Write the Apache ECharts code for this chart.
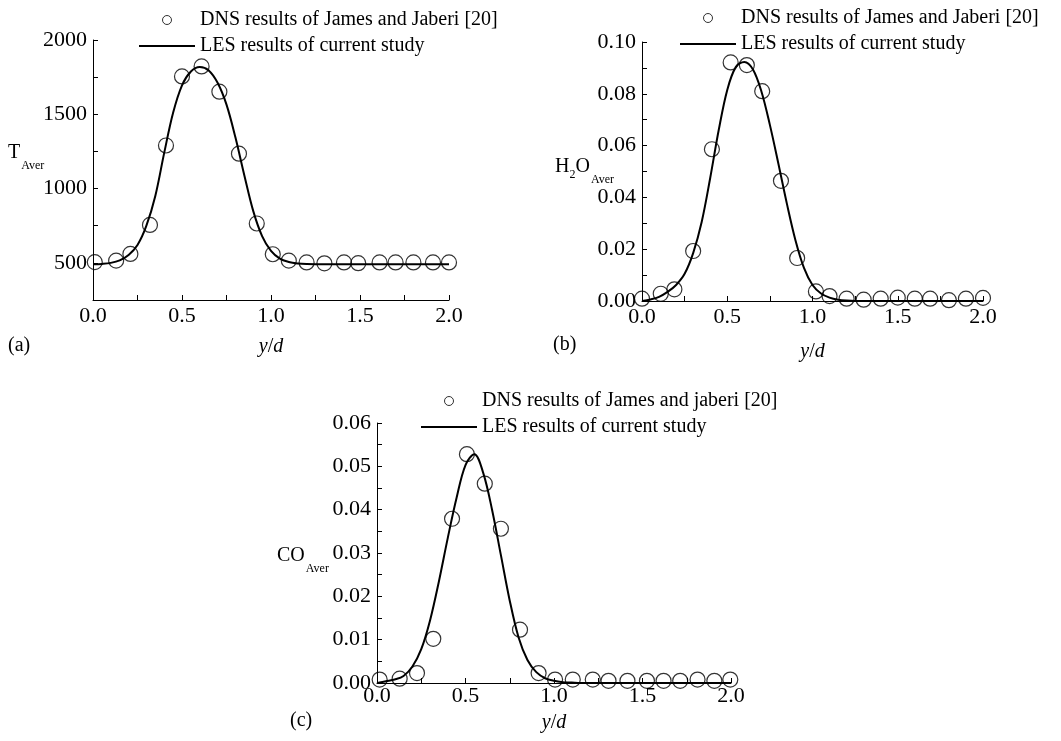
<!DOCTYPE html>
<html>
<head>
<meta charset="utf-8">
<script src="https://cdn.jsdelivr.net/npm/echarts@6/dist/echarts.min.js"></script>
<style>
html,body{margin:0;padding:0;background:#fff;}
#main{width:1061px;height:741px;}
</style>
</head>
<body>
<div id="main"></div>
<script>
// ---------- data ----------
const nameDNS_ab = 'DNS results of James and Jaberi [20]';
const nameDNS_c = 'DNS results of James and jaberi [20]';
const nameLES = 'LES results of current study';

// LES curves (common y/d stations)
const lineX = [0,0.05,0.1,0.15,0.2,0.25,0.3,0.35,0.4,0.45,0.5,0.55,0.6,0.65,0.7,0.75,0.8,0.85,0.9,0.95,1.0,1.05,1.1,1.15,1.2,1.3,1.4,1.5,1.6,1.7,1.8,1.9,2.0];
const lesT = [490,493,500,517,553,620,750,950,1240,1510,1695,1788,1818,1795,1712,1565,1345,1090,850,680,580,528,506,496,492,490,490,490,490,490,490,490,490];
const lesH2O = [0,0.0006,0.0016,0.0035,0.0062,0.0105,0.0185,0.0305,0.0475,0.066,0.0815,0.0903,0.0923,0.0895,0.081,0.068,0.053,0.0375,0.0235,0.0128,0.0062,0.0029,0.0013,0.0005,0.0002,0,0,0,0,0,0,0,0];
const lesCO = [0,0.0004,0.0008,0.0016,0.0038,0.0078,0.0145,0.0235,0.0335,0.0428,0.0503,0.0528,0.0485,0.040,0.0295,0.019,0.0105,0.0053,0.0025,0.0011,0.0005,0.0002,0.0001,0,0,0,0,0,0,0,0,0,0];

// DNS points
const dnsTx = [0.01,0.13,0.21,0.32,0.41,0.50,0.61,0.71,0.82,0.92,1.01,1.10,1.20,1.30,1.41,1.49,1.61,1.70,1.80,1.91,2.0];
const dnsT = [505,515,560,755,1290,1755,1822,1652,1235,765,558,515,503,497,503,498,503,503,503,503,503];

const dnsHx = [0.0,0.11,0.19,0.30,0.41,0.52,0.615,0.705,0.815,0.91,1.02,1.10,1.20,1.30,1.40,1.50,1.60,1.69,1.80,1.90,2.0];
const dnsH = [0.0009,0.0028,0.0045,0.0193,0.0586,0.0921,0.0911,0.081,0.0464,0.0166,0.0037,0.0019,0.0009,0.0005,0.0009,0.0013,0.0009,0.0009,0.0003,0.0009,0.0012];

const dnsCx = [0.015,0.128,0.226,0.318,0.424,0.508,0.609,0.70,0.808,0.913,1.006,1.106,1.219,1.308,1.415,1.525,1.619,1.713,1.811,1.906,1.996];
const dnsC = [0.0008,0.001,0.0023,0.0102,0.0379,0.0528,0.046,0.0356,0.0123,0.0023,0.0008,0.0008,0.0008,0.0005,0.0005,0.0005,0.0005,0.0005,0.0008,0.0005,0.0008];

// axis ranges
const xRange = [0, 2, 0.25];
const yRangeT = [250, 2000, 250];
const yRangeH = [0, 0.1, 0.01];
const yRangeC = [0, 0.06, 0.005];

// ---------- helpers ----------
const FONT = "'Liberation Serif','Times New Roman',serif";
const pairs = (xs, ys) => xs.map((x, i) => [x, ys[i]]);
const isMult = (v, step) => Math.abs(v / step - Math.round(v / step)) < 1e-6;

function xAxisCfg(gi, margin, gap) {
  return {
    type: 'value', gridIndex: gi, min: xRange[0], max: xRange[1], interval: xRange[2],
    name: '{i|y}/{i|d}', nameLocation: 'middle', nameGap: gap,
    nameTextStyle: {fontSize: 20, fontFamily: FONT, color: '#000',
      rich: {i: {fontSize: 20, fontFamily: FONT, fontStyle: 'italic', color: '#000'}}},
    axisLine: {show: true, onZero: false, lineStyle: {color: '#000', width: 1}},
    axisTick: {show: true, inside: true, length: 5, lineStyle: {color: '#000', width: 1}},
    splitLine: {show: false},
    axisLabel: {margin: margin, fontSize: 22, fontFamily: FONT, color: '#000',
      formatter: v => isMult(v, 0.5) ? v.toFixed(1) : ''}
  };
}
function yAxisCfg(gi, r, labelStep, dec) {
  return {
    type: 'value', gridIndex: gi, min: r[0], max: r[1], interval: r[2],
    axisLine: {show: true, onZero: false, lineStyle: {color: '#000', width: 1}},
    axisTick: {show: true, inside: true, length: 5, lineStyle: {color: '#000', width: 1}},
    splitLine: {show: false},
    axisLabel: {margin: 6, fontSize: 22, fontFamily: FONT, color: '#000',
      formatter: v => isMult(v, labelStep) ? v.toFixed(dec) : ''}
  };
}
function lineSeries(gi, ys) {
  return {
    type: 'line', name: nameLES, xAxisIndex: gi, yAxisIndex: gi,
    data: pairs(lineX, ys), smooth: 0.35, symbol: 'none',
    lineStyle: {color: '#000', width: 2}, itemStyle: {color: '#000'},
    emphasis: {disabled: true}, z: 3
  };
}
function dnsSeries(gi, name, xs, ys) {
  return {
    type: 'scatter', name: name, xAxisIndex: gi, yAxisIndex: gi,
    data: pairs(xs, ys), symbol: 'circle', symbolSize: 15,
    itemStyle: {color: 'rgba(0,0,0,0)', borderColor: '#000', borderWidth: 1.2},
    emphasis: {disabled: true}, z: 4
  };
}
function legendCfg(left, top, dnsName) {
  return {
    orient: 'vertical', left: left, top: top, itemWidth: 56, itemHeight: 9, itemGap: 6,
    padding: 0, selectedMode: false,
    textStyle: {fontSize: 20, fontFamily: FONT, color: '#000'},
    data: [
      {name: dnsName, icon: 'circle', itemStyle: {color: 'rgba(0,0,0,0)', borderColor: '#000', borderWidth: 1}},
      {name: nameLES, itemStyle: {color: 'rgba(0,0,0,0)', borderColor: 'rgba(0,0,0,0)', borderWidth: 0, opacity: 0},
        lineStyle: {color: '#000', width: 2}}
    ]
  };
}
const richName = {
  m: {fontSize: 20, fontFamily: FONT, lineHeight: 22, verticalAlign: 'top', fill: '#000'},
  s: {fontSize: 12, fontFamily: FONT, lineHeight: 12, verticalAlign: 'top', padding: [17, 0, 0, 1], fill: '#000'},
  n: {fontSize: 12, fontFamily: FONT, lineHeight: 12, verticalAlign: 'top', padding: [12, 0, 0, 0], fill: '#000'}
};
function yName(x, y, text) {
  return {type: 'text', x: x, y: y, silent: true,
    style: {text: text, rich: richName, align: 'left', verticalAlign: 'top', fill: '#000'}};
}
function panelLabel(text, left, top) {
  return {text: text, left: left, top: top, padding: 0,
    textStyle: {fontSize: 20, fontWeight: 'normal', fontFamily: FONT, color: '#000'}};
}

const chart = echarts.init(document.getElementById('main'), null, {renderer: 'canvas'});
chart.setOption({
  animation: false,
  backgroundColor: '#fff',
  title: [panelLabel('(a)', 8, 336), panelLabel('(b)', 553, 335), panelLabel('(c)', 290, 711)],
  legend: [legendCfg(138, 10, nameDNS_ab), legendCfg(679, 8, nameDNS_ab), legendCfg(420, 391, nameDNS_c)],
  grid: [
    {left: 93, top: 40, width: 356, height: 260},
    {left: 642, top: 42, width: 341, height: 259},
    {left: 377, top: 423, width: 354, height: 260}
  ],
  xAxis: [xAxisCfg(0, 5, 37), xAxisCfg(1, 5, 41), xAxisCfg(2, 2, 30)],
  yAxis: [yAxisCfg(0, yRangeT, 500, 0), yAxisCfg(1, yRangeH, 0.02, 2), yAxisCfg(2, yRangeC, 0.01, 2)],
  graphic: [
    yName(8, 143, '{m|T}{s|Aver}'),
    yName(555, 157, '{m|H}{n|2}{m|O}{s|Aver}'),
    yName(277, 546, '{m|CO}{s|Aver}')
  ],
  series: [
    dnsSeries(0, nameDNS_ab, dnsTx, dnsT), lineSeries(0, lesT),
    dnsSeries(1, nameDNS_ab, dnsHx, dnsH), lineSeries(1, lesH2O),
    dnsSeries(2, nameDNS_c, dnsCx, dnsC), lineSeries(2, lesCO)
  ]
});
</script>
</body>
</html>
